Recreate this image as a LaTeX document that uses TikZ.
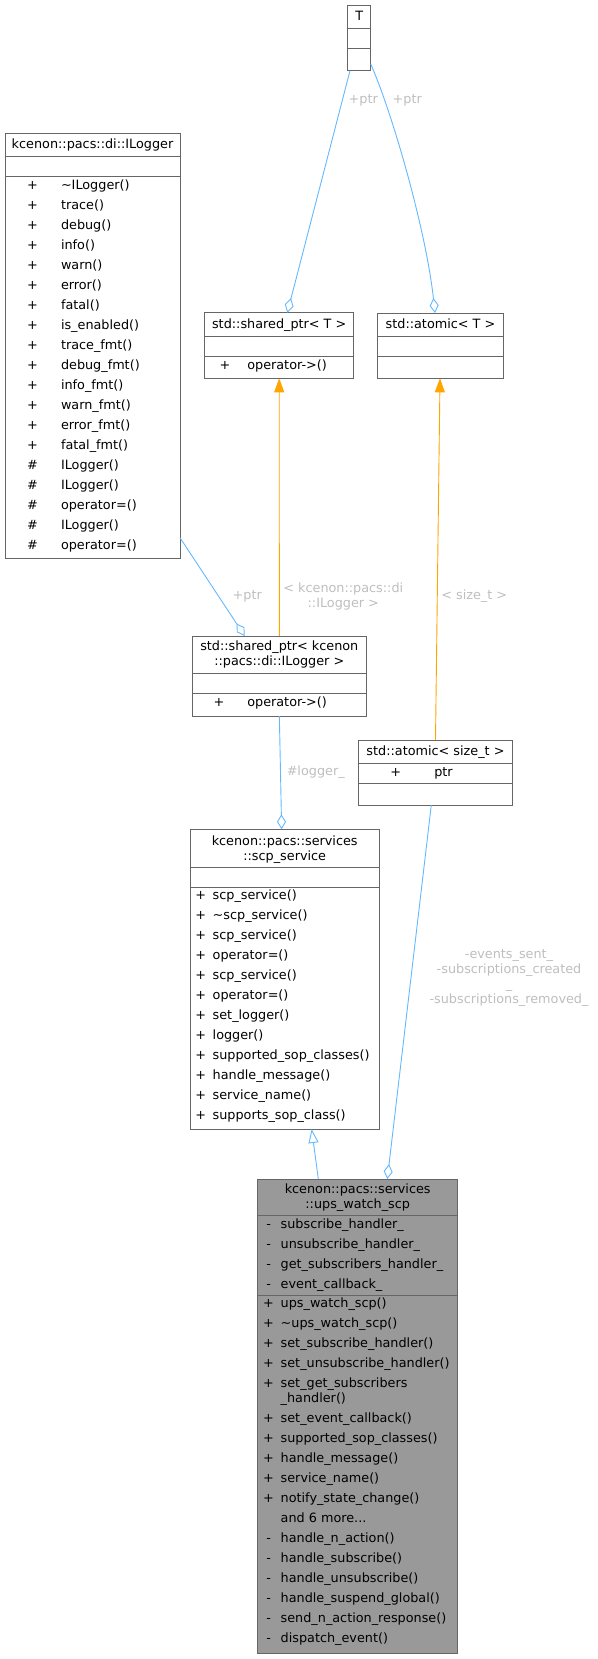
\documentclass[tikz,border=0pt]{standalone}
\usepackage{fontspec}
\setmainfont{DejaVu Sans}
\usetikzlibrary{arrows.meta,calc}
\definecolor{bordercol}{HTML}{666666}
\definecolor{edgeblue}{HTML}{63B8FF}
\definecolor{edgeorange}{HTML}{FFA500}
\definecolor{lblgrey}{HTML}{BEBEBE}
\definecolor{focusfill}{HTML}{999999}
\tikzset{
 umlbox/.style={draw=bordercol, line width=0.9pt, fill=white, inner sep=0pt, outer sep=0pt, anchor=north west},
 focusbox/.style={umlbox, fill=focusfill},
 sepline/.style={draw=bordercol, line width=0.9pt},
 txt/.style={font=\fontsize{12.8}{15}\selectfont, inner sep=0pt, outer sep=0pt},
 rowtxt/.style={txt, anchor=west, text height=9.5pt, text depth=2.9pt},
 symtxt/.style={txt, anchor=center, text height=9.5pt, text depth=2.9pt},
 titletxt/.style={txt, align=center},
 lbl/.style={txt, text=lblgrey, align=center},
 blueedge/.style={draw=edgeblue, line width=0.9pt},
 orangeedge/.style={draw=edgeorange, line width=0.9pt},
 aggr/.style={blueedge, -{Diamond[open, length=15pt, width=9pt, line width=0.9pt]}},
 tmpl/.style={orangeedge, -{Triangle[length=14pt, width=10pt]}},
 inherit/.style={blueedge, -{Triangle[open, length=14pt, width=10pt, line width=0.9pt]}},
}
\begin{document}
\begin{tikzpicture}[x=1pt,y=-1pt]
\useasboundingbox (0,0) rectangle (597,1659);

% ---------- T ----------
\node[umlbox, minimum width=23pt, minimum height=65.7pt] (T) at (347.7,5) {};
\draw[sepline] (347.7,28.7) -- (370.7,28.7);
\draw[sepline] (347.7,48.7) -- (370.7,48.7);
\node[symtxt] (T-title) at (359.2,17) {T};

% ---------- std::shared_ptr< T > ----------
\node[umlbox, minimum width=149pt, minimum height=65.6pt] (spT) at (204.7,312.7) {};
\draw[sepline] (204.7,336.7) -- (353.7,336.7);
\draw[sepline] (204.7,356.7) -- (353.7,356.7);
\node[symtxt] (spT-title) at (279.2,324.7) {std::shared\_ptr< T >};
\node[symtxt] (spT-s1) at (225,366.3) {+};
\node[rowtxt] (spT-n1) at (247.3,366.3) {operator->()};

% ---------- std::atomic< T > ----------
\node[umlbox, minimum width=125.6pt, minimum height=65.3pt] (atT) at (377.7,313) {};
\draw[sepline] (377.7,336.7) -- (503.3,336.7);
\draw[sepline] (377.7,356.7) -- (503.3,356.7);
\node[symtxt] (atT-title) at (440.5,324.7) {std::atomic< T >};

% ---------- kcenon::pacs::di::ILogger ----------
\node[umlbox, minimum width=175pt, minimum height=425pt] (ILogger) at (5,133) {};
\draw[sepline] (5,156.7) -- (180,156.7);
\draw[sepline] (5,176.7) -- (180,176.7);
\node[symtxt] (ILogger-title) at (92.5,145.7) {kcenon::pacs::di::ILogger};
\foreach \t [count=\i] in {\textasciitilde ILogger(), trace(), debug(), info(), warn(), error(), fatal(), is\_enabled(), trace\_fmt(), debug\_fmt(), info\_fmt(), warn\_fmt(), error\_fmt(), fatal\_fmt()}
{
  \node[symtxt] (ILogger-s\i) at (32.5,{186+20*(\i-1)}) {+};
  \node[rowtxt] (ILogger-n\i) at (61,{186+20*(\i-1)}) {\t};
}
\foreach \t [count=\i from 15] in {ILogger(), ILogger(), operator=(), ILogger(), operator=()}
{
  \node[symtxt] (ILogger-s\i) at (32.5,{186+20*(\i-1)}) {\#};
  \node[rowtxt] (ILogger-n\i) at (61,{186+20*(\i-1)}) {\t};
}

% ---------- std::shared_ptr< kcenon::pacs::di::ILogger > ----------
\node[umlbox, minimum width=173.3pt, minimum height=80pt] (spIL) at (192.7,636) {};
\draw[sepline] (192.7,673.3) -- (366,673.3);
\draw[sepline] (192.7,693.3) -- (366,693.3);
\node[titletxt] (spIL-title) at (279.3,654.8) {std::shared\_ptr< kcenon\\::pacs::di::ILogger >};
\node[symtxt] (spIL-s1) at (219,702.8) {+};
\node[rowtxt] (spIL-n1) at (247.3,702.8) {operator->()};

% ---------- std::atomic< size_t > ----------
\node[umlbox, minimum width=154.4pt, minimum height=65pt] (atST) at (358.3,740) {};
\draw[sepline] (358.3,763.3) -- (512.7,763.3);
\draw[sepline] (358.3,783.3) -- (512.7,783.3);
\node[symtxt] (atST-title) at (435.5,751.7) {std::atomic< size\_t >};
\node[symtxt] (atST-s1) at (395.7,773.2) {+};
\node[rowtxt] (atST-n1) at (434.3,773.2) {ptr};

% ---------- kcenon::pacs::services::scp_service ----------
\node[umlbox, minimum width=189.3pt, minimum height=299.7pt] (scp) at (190,829.3) {};
\draw[sepline] (190,867.3) -- (379.3,867.3);
\draw[sepline] (190,887.3) -- (379.3,887.3);
\node[titletxt] (scp-title) at (284.7,849.2) {kcenon::pacs::services\\::scp\_service};
\foreach \t [count=\i] in {scp\_service(), \textasciitilde scp\_service(), scp\_service(), operator=(), scp\_service(), operator=(), set\_logger(), logger(), supported\_sop\_classes(), handle\_message(), service\_name(), supports\_sop\_class()}
{
  \node[symtxt] (scp-s\i) at (200.7,{896.6+20*(\i-1)}) {+};
  \node[rowtxt] (scp-n\i) at (212.7,{896.6+20*(\i-1)}) {\t};
}

% ---------- kcenon::pacs::services::ups_watch_scp ----------
\node[focusbox, minimum width=200pt, minimum height=474.3pt] (ups) at (257.7,1179) {};
\draw[sepline] (257.7,1215.7) -- (457.7,1215.7);
\draw[sepline] (257.7,1295.7) -- (457.7,1295.7);
\node[titletxt] (ups-title) at (357.7,1197.5) {kcenon::pacs::services\\::ups\_watch\_scp};
\foreach \t [count=\i] in {subscribe\_handler\_, unsubscribe\_handler\_, get\_subscribers\_handler\_, event\_callback\_}
{
  \node[symtxt] (ups-as\i) at (268.7,{1225.3+20*(\i-1)}) {-};
  \node[rowtxt] (ups-an\i) at (280.7,{1225.3+20*(\i-1)}) {\t};
}
\foreach \t/\y [count=\i] in {ups\_watch\_scp()/1304.6, \textasciitilde ups\_watch\_scp()/1324.6, set\_subscribe\_handler()/1344.6, set\_unsubscribe\_handler()/1364.6, set\_get\_subscribers/1384.6, set\_event\_callback()/1419.6, supported\_sop\_classes()/1439.6, handle\_message()/1459.6, service\_name()/1479.6, notify\_state\_change()/1499.6}
{
  \node[symtxt] (ups-ms\i) at (268.5,\y) {+};
  \node[rowtxt] (ups-mn\i) at (280.7,\y) {\t};
}
\node[rowtxt] (ups-mwrap) at (280.7,1399.6) {\_handler()};
\node[rowtxt] (ups-more) at (280.7,1519.6) {and 6 more...};
\foreach \t [count=\i] in {handle\_n\_action(), handle\_subscribe(), handle\_unsubscribe(), handle\_suspend\_global(), send\_n\_action\_response(), dispatch\_event()}
{
  \node[symtxt] (ups-ps\i) at (268.7,{1539.6+20*(\i-1)}) {-};
  \node[rowtxt] (ups-pn\i) at (280.7,{1539.6+20*(\i-1)}) {\t};
}

% ---------- connectors ----------
% T -> shared_ptr<T>
\draw[aggr] ([xshift=-9.2pt]T.south) -- ([xshift=8.1pt]spT.north);
\node[lbl] (lbl-ptr1) at (363.3,100.7) {+ptr};
% T -> atomic<T>
\draw[aggr] ($(T.south east)+(0,-6.7)$) .. controls (392,112) and (426,230) .. ([xshift=-5.5pt]atT.north);
\node[lbl] (lbl-ptr2) at (407.3,100.7) {+ptr};
% ILogger -> shared_ptr<ILogger>
\draw[aggr] ($(ILogger.south east)+(0,-20.3)$) -- ([xshift=-34.6pt]spIL.north);
\node[lbl] (lbl-ptr3) at (247.3,596.7) {+ptr};
% shared_ptr<ILogger> -> shared_ptr<T> (template)
\draw[tmpl] (spIL.north) -- (spT.south);
\node[lbl] (lbl-tIL) at (343.3,596.5) {< kcenon::pacs::di\\::ILogger >};
% atomic<size_t> -> atomic<T> (template)
\draw[tmpl] (atST.north) -- ([xshift=-0.5pt]atT.south);
\node[lbl] (lbl-tst) at (474.3,596.3) {< size\_t >};
% shared_ptr<ILogger> -> scp_service
\draw[aggr] (spIL.south) -- ([xshift=-3pt]scp.north);
\node[lbl] (lbl-logger) at (315.7,771.7) {\#logger\_};
% atomic<size_t> -> ups_watch_scp
\draw[aggr] ([xshift=-4.2pt]atST.south) -- ([xshift=29.6pt]ups.north);
\node[lbl, font=\fontsize{12.8}{14.7}\selectfont] (lbl-events) at (509,978) {-events\_sent\_\\-subscriptions\_created\\\_\\-subscriptions\_removed\_};
% ups_watch_scp -> scp_service (inheritance)
\draw[inherit] ([xshift=-39.4pt]ups.north) -- ([xshift=27pt]scp.south);
\end{tikzpicture}
\end{document}
